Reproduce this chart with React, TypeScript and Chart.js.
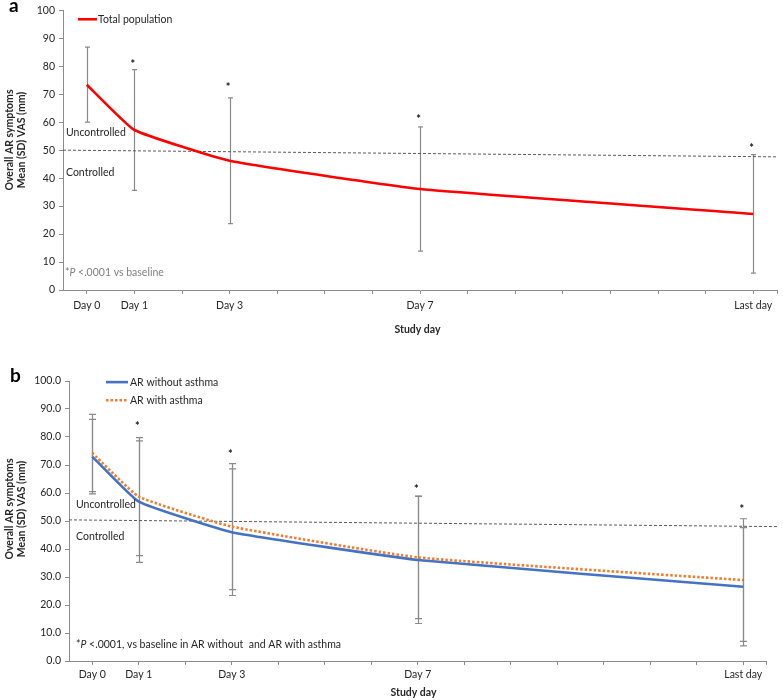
import React, { useEffect, useRef } from "react";
import { Chart, registerables } from "chart.js";

Chart.register(...registerables);

// ---------- data ----------
const dayValues = [0, 1, 3, 7, 14];
const dayLabels = ["Day 0", "Day 1", "Day 3", "Day 7", "Last day"];
const xTickValues = [0, 1, 2, 3, 4, 5, 6, 7, 8, 9, 10, 11, 12, 13, 14, 14.5];
const yTickValues = [0, 10, 20, 30, 40, 50, 60, 70, 80, 90, 100];

// panel a
const totalMean = [73.4, 57.2, 46.2, 36.1, 27.2];
const totalSD = [13.4, 21.6, 22.5, 22.2, 21.2];
const totalStarY: (number | null)[] = [null, 81.5, 73.3, 62.0, 51.5];
const thresholdAX = [-0.5, 14.5];
const thresholdAY = [50.0, 47.6];

// panel b
const noAsthmaMean = [73.0, 56.9, 46.0, 36.1, 26.5];
const noAsthmaSD = [13.3, 21.7, 22.6, 22.7, 21.1];
const asthmaMean = [74.3, 58.7, 48.0, 37.0, 28.9];
const asthmaSD = [13.8, 21.1, 22.5, 21.9, 21.9];
const groupStarY: (number | null)[] = [null, 84.5, 74.8, 62.3, 54.9];
const thresholdBX = [-0.5, 14.73];
const thresholdBY = [50.4, 48.0];

// ---------- styles ----------
const FONT = "Lato, 'Open Sans', sans-serif";
const TEXT = "#262626";
const AXIS = "#8c8c8c";
const ERR = "#8a8a8a";
const RED = "#FF0000";
const BLUE = "#4472C4";
const ORANGE = "#ED7D31";

Chart.defaults.font.family = FONT;
Chart.defaults.font.size = 10.5;
Chart.defaults.color = "#404040";

interface LegendItem { x0: number; x1: number; y: number; tx: number; label: string; color: string; dash: number[] }
interface PanelCfg {
  letter: string;
  letterPos: [number, number];
  yTitleX: [number, number];
  yTitleCy: number;
  xTitlePos: [number, number];
  bars: { mean: number[]; sd: number[]; cap: number }[];
  stars: (number | null)[];
  legend: LegendItem[];
  notes: { text: string; x: number; y: number }[];
  foot: { x: number; y: number; pre: string; it: string; post: string; color: string };
}

function overlay(cfg: PanelCfg) {
  return {
    id: "overlay",
    beforeDatasetsDraw(chart: any) {
      const { ctx, scales } = chart;
      const x = scales.x, y = scales.y;
      ctx.save();
      ctx.strokeStyle = ERR;
      ctx.lineWidth = 1.2;
      cfg.bars.forEach((b) => {
        b.mean.forEach((m, i) => {
          const px = Math.round(x.getPixelForValue(dayValues[i])) + 0.5;
          const top = y.getPixelForValue(m + b.sd[i]);
          const bot = y.getPixelForValue(m - b.sd[i]);
          ctx.beginPath();
          ctx.moveTo(px, top);
          ctx.lineTo(px, bot);
          ctx.moveTo(px - b.cap, top);
          ctx.lineTo(px + b.cap, top);
          ctx.moveTo(px - b.cap, bot);
          ctx.lineTo(px + b.cap, bot);
          ctx.stroke();
        });
      });
      ctx.restore();
    },
    afterDraw(chart: any) {
      const { ctx, scales } = chart;
      const x = scales.x, y = scales.y;
      ctx.save();
      // asterisks
      ctx.fillStyle = "#111";
      ctx.font = `bold 11px ${FONT}`;
      ctx.textAlign = "center";
      ctx.textBaseline = "alphabetic";
      cfg.stars.forEach((s, i) => {
        if (s == null) return;
        ctx.fillText("*", x.getPixelForValue(dayValues[i]) - 1.5, y.getPixelForValue(s) + 6);
      });
      // legend
      cfg.legend.forEach((l) => {
        ctx.beginPath();
        ctx.strokeStyle = l.color;
        ctx.lineWidth = 2.6;
        ctx.setLineDash(l.dash);
        const py = y.getPixelForValue(l.y);
        ctx.moveTo(x.getPixelForValue(l.x0), py);
        ctx.lineTo(x.getPixelForValue(l.x1), py);
        ctx.stroke();
        ctx.setLineDash([]);
        ctx.fillStyle = TEXT;
        ctx.font = `10.5px ${FONT}`;
        ctx.textAlign = "left";
        ctx.textBaseline = "middle";
        ctx.fillText(l.label, x.getPixelForValue(l.tx), py);
      });
      // notes
      ctx.fillStyle = TEXT;
      ctx.font = `10.5px ${FONT}`;
      ctx.textAlign = "left";
      ctx.textBaseline = "middle";
      cfg.notes.forEach((n) => {
        ctx.fillText(n.text, x.getPixelForValue(n.x), y.getPixelForValue(n.y));
      });
      // footnote
      const f = cfg.foot;
      let fx = x.getPixelForValue(f.x);
      const fy = y.getPixelForValue(f.y);
      ctx.fillStyle = f.color;
      ctx.font = `10.5px ${FONT}`;
      ctx.fillText(f.pre, fx, fy);
      fx += ctx.measureText(f.pre).width;
      ctx.font = `italic 10.5px ${FONT}`;
      ctx.fillText(f.it, fx, fy);
      fx += ctx.measureText(f.it).width;
      ctx.font = `10.5px ${FONT}`;
      ctx.fillText(f.post, fx, fy);
      // panel letter
      ctx.fillStyle = "#000";
      ctx.font = `bold 19px ${FONT}`;
      ctx.textAlign = "left";
      ctx.textBaseline = "alphabetic";
      ctx.fillText(cfg.letter, cfg.letterPos[0], cfg.letterPos[1]);
      // axis titles
      ctx.fillStyle = TEXT;
      ctx.font = `bold 10.5px ${FONT}`;
      ctx.textAlign = "center";
      ctx.textBaseline = "middle";
      ctx.fillText("Study day", cfg.xTitlePos[0], cfg.xTitlePos[1]);
      const lines = ["Overall AR symptoms", "Mean (SD) VAS (mm)"];
      lines.forEach((t, i) => {
        ctx.save();
        ctx.translate(cfg.yTitleX[i], cfg.yTitleCy);
        ctx.rotate(-Math.PI / 2);
        ctx.fillText(t, 0, 0);
        ctx.restore();
      });
      ctx.restore();
    },
  };
}

function labelFor(v: number) {
  const i = dayValues.indexOf(v);
  return i >= 0 ? dayLabels[i] : "";
}

function makeOptions(o: { padRight: number; padTop: number; yWidth: number; xHeight: number; xPad: number; decimals: number }) {
  return {
    animation: false as const,
    responsive: false,
    devicePixelRatio: 1,
    layout: { padding: { left: 0, right: o.padRight, top: o.padTop, bottom: 0 } },
    plugins: { legend: { display: false }, tooltip: { enabled: false } },
    scales: {
      x: {
        type: "linear" as const,
        min: -0.5,
        max: 14.5,
        afterBuildTicks: (s: any) => {
          s.ticks = xTickValues.map((v) => ({ value: v }));
        },
        afterFit: (s: any) => {
          s.height = o.xHeight;
        },
        ticks: {
          autoSkip: false,
          maxRotation: 0,
          padding: o.xPad,
          color: TEXT,
          callback: (v: any) => labelFor(Number(v)),
        },
        grid: { drawOnChartArea: false, drawTicks: true, tickLength: 4, color: AXIS },
        border: { color: AXIS, width: 1 },
      },
      y: {
        type: "linear" as const,
        min: 0,
        max: 100,
        afterBuildTicks: (s: any) => {
          s.ticks = yTickValues.map((v) => ({ value: v }));
        },
        afterFit: (s: any) => {
          s.width = o.yWidth;
        },
        ticks: {
          padding: 4,
          color: TEXT,
          callback: (v: any) => Number(v).toFixed(o.decimals),
        },
        grid: { drawOnChartArea: false, drawTicks: true, tickLength: 4, color: AXIS },
        border: { color: AXIS, width: 1 },
      },
    },
  };
}

function pts(xs: number[], ys: number[]) {
  return xs.map((x, i) => ({ x, y: ys[i] }));
}

export default function App() {
  const refA = useRef<HTMLCanvasElement>(null);
  const refB = useRef<HTMLCanvasElement>(null);

  useEffect(() => {
    const cfgA: PanelCfg = {
      letter: "a",
      letterPos: [9, 12],
      yTitleX: [10, 22],
      yTitleCy: 140,
      xTitlePos: [417.5, 330],
      bars: [{ mean: totalMean, sd: totalSD, cap: 2.5 }],
      stars: totalStarY,
      legend: [{ x0: -0.185, x1: 0.214, y: 96.8, tx: 0.235, label: "Total population", color: RED, dash: [] }],
      notes: [
        { text: "Uncontrolled", x: -0.437, y: 56.1 },
        { text: "Controlled", x: -0.437, y: 41.8 },
      ],
      foot: { x: -0.458, y: 6.1, pre: "*", it: "P", post: " <.0001 vs baseline", color: "#808080" },
    };
    const cfgB: PanelCfg = {
      letter: "b",
      letterPos: [10, 32],
      yTitleX: [10, 22],
      yTitleCy: 159,
      xTitlePos: [413.5, 343],
      bars: [
        { mean: noAsthmaMean, sd: noAsthmaSD, cap: 3.5 },
        { mean: asthmaMean, sd: asthmaSD, cap: 3.5 },
      ],
      stars: groupStarY,
      legend: [
        { x0: 0.296, x1: 0.769, y: 99.6, tx: 0.812, label: "AR without asthma", color: BLUE, dash: [] },
        { x0: 0.296, x1: 0.769, y: 93.1, tx: 0.812, label: "AR with asthma", color: ORANGE, dash: [2.5, 2] },
      ],
      notes: [
        { text: "Uncontrolled", x: -0.349, y: 55.7 },
        { text: "Controlled", x: -0.349, y: 44.3 },
      ],
      foot: { x: -0.349, y: 5.7, pre: "*", it: "P", post: " <.0001, vs baseline in AR without  and AR with asthma", color: TEXT },
    };

    const chartA = new Chart(refA.current!, {
      type: "line",
      data: {
        datasets: [
          {
            label: "Total population",
            data: pts(dayValues, totalMean),
            borderColor: RED,
            borderWidth: 2.6,
            pointRadius: 0,
            tension: 0.12,
            fill: false,
          },
          {
            label: "threshold",
            data: pts(thresholdAX, thresholdAY),
            borderColor: "#595959",
            borderWidth: 1,
            borderDash: [3, 2],
            pointRadius: 0,
            clip: false as any,
            fill: false,
          },
        ],
      },
      options: makeOptions({ padRight: 6, padTop: 10, yWidth: 63, xHeight: 60, xPad: 5, decimals: 0 }) as any,
      plugins: [overlay(cfgA)],
    });

    const chartB = new Chart(refB.current!, {
      type: "line",
      data: {
        datasets: [
          {
            label: "AR with asthma",
            data: pts(dayValues, asthmaMean),
            borderColor: ORANGE,
            borderWidth: 2.6,
            borderDash: [2.5, 2],
            borderCapStyle: "butt",
            pointRadius: 0,
            tension: 0.12,
            fill: false,
          },
          {
            label: "AR without asthma",
            data: pts(dayValues, noAsthmaMean),
            borderColor: BLUE,
            borderWidth: 2.6,
            pointRadius: 0,
            tension: 0.12,
            fill: false,
          },
          {
            label: "threshold",
            data: pts(thresholdBX, thresholdBY),
            borderColor: "#595959",
            borderWidth: 1,
            borderDash: [3, 2],
            pointRadius: 0,
            clip: false as any,
            fill: false,
          },
        ],
      },
      options: makeOptions({ padRight: 16.5, padTop: 31, yWidth: 69, xHeight: 39, xPad: 3, decimals: 1 }) as any,
      plugins: [overlay(cfgB)],
    });

    return () => {
      chartA.destroy();
      chartB.destroy();
    };
  }, []);

  return (
    <div style={{ position: "fixed", left: 0, top: 0, width: 783, height: 700, background: "#fff" }}>
      <canvas ref={refA} width={783} height={350} style={{ display: "block", width: 783, height: 350 }} />
      <canvas ref={refB} width={783} height={350} style={{ display: "block", width: 783, height: 350 }} />
    </div>
  );
}
